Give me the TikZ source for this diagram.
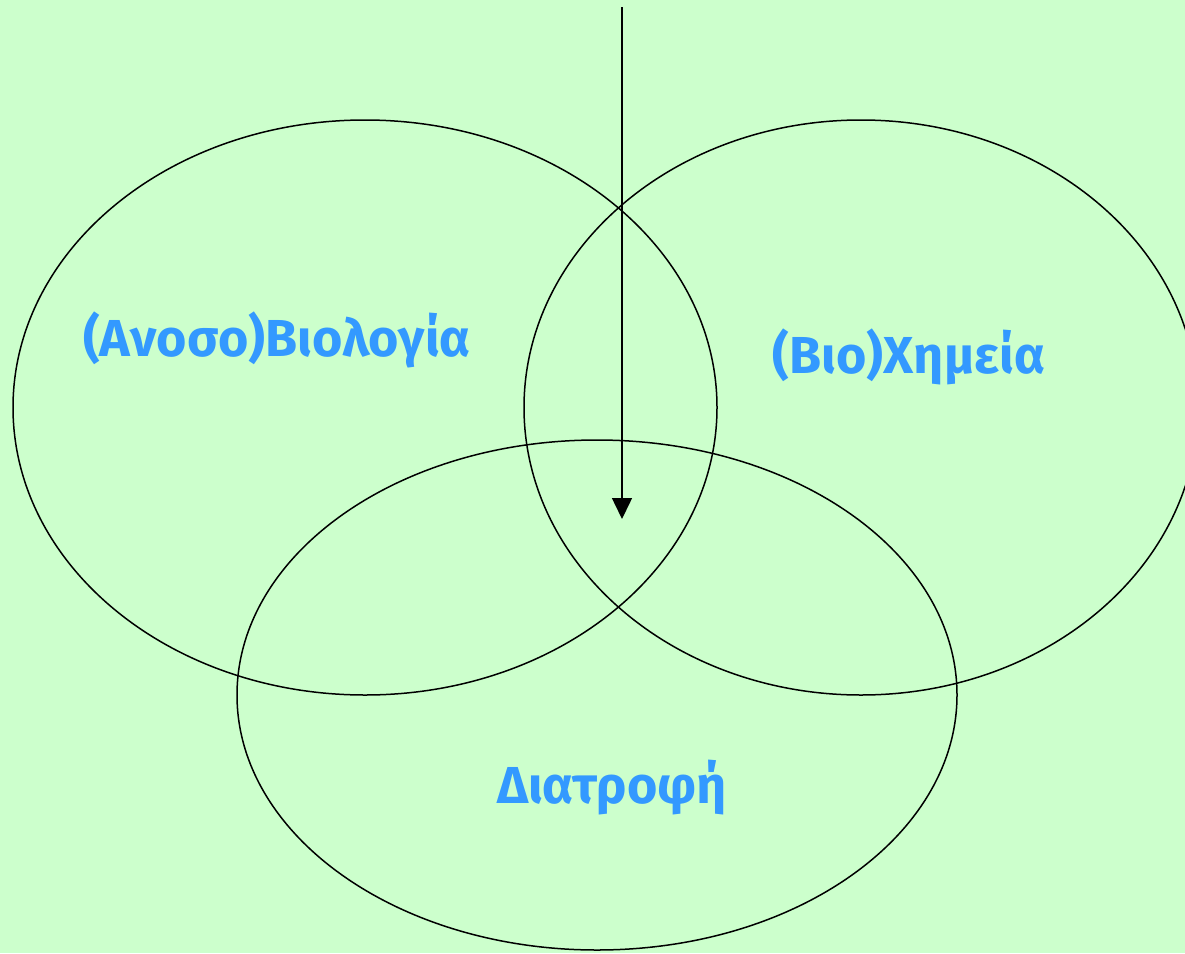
\documentclass[tikz,border=0pt]{standalone}
\usepackage{fontspec}
\setmainfont{Fira Sans}
\usetikzlibrary{arrows.meta}
\definecolor{bg}{HTML}{CCFFCC}
\definecolor{lbl}{HTML}{3399FF}
\tikzset{
  venn/.style={draw=black, line width=1.5pt},
  lab/.style={text=lbl, font=\fontsize{52}{56}\selectfont\bfseries, inner sep=0pt},
  arr/.style={draw=black, line width=1.5pt, -{Triangle[width=20pt,length=21pt]}}
}
\begin{document}
\begin{tikzpicture}[x=1pt,y=-1pt]
\fill[bg] (0,0) rectangle (1185,953);
\useasboundingbox (0,0) rectangle (1185,953);
\begin{scope}
\clip (0,0) rectangle (1185,953);
\draw[venn] (365,407.5) ellipse [x radius=352, y radius=287.5];
\draw[venn] (861,407.5) ellipse [x radius=337, y radius=287.5];
\draw[venn] (597,695) ellipse [x radius=360, y radius=255];
\end{scope}
\node[lab] (bio) at (277,340) {(Ανοσο)Βιολογία};
\node[lab] (chem) at (909,357) {(Βιο)Χημεία};
\node[lab] (diet) at (612,788) {Διατροφή};
\coordinate (top) at (622,7);
\coordinate (tip) at (622,519);
\draw[arr] (top) -- (tip);
\end{tikzpicture}
\end{document}
